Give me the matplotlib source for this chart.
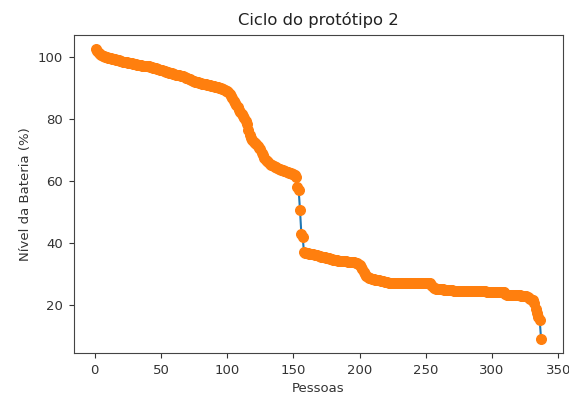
import numpy as np
import matplotlib
matplotlib.use("Agg")
import matplotlib.pyplot as plt

title = "Ciclo do protótipo 2"
xlabel = "Pessoas"
ylabel = "Nível da Bateria (%)"

nivel = [
    102.5, 102.0, 101.5, 101.0, 100.8, 100.5, 100.3, 100.0, 100.0, 99.8,
    99.7, 99.6, 99.5, 99.4, 99.3, 99.2, 99.1, 99.0, 98.9, 98.8,
    98.6, 98.5, 98.4, 98.3, 98.2, 98.1, 98.0, 98.0, 97.9, 97.8,
    97.7, 97.6, 97.5, 97.5, 97.4, 97.3, 97.2, 97.1, 97.0, 97.0,
    97.0, 96.9, 96.8, 96.6, 96.5, 96.4, 96.3, 96.1, 96.0, 95.9,
    95.8, 95.6, 95.5, 95.3, 95.2, 95.0, 94.9, 94.8, 94.7, 94.6,
    94.4, 94.3, 94.2, 94.1, 94.0, 93.9, 93.8, 93.6, 93.4, 93.2,
    93.0, 92.8, 92.6, 92.4, 92.3, 92.1, 92.0, 91.9, 91.7, 91.6,
    91.5, 91.4, 91.3, 91.2, 91.1, 91.0, 90.9, 90.8, 90.7, 90.6,
    90.5, 90.4, 90.3, 90.2, 90.0, 89.8, 89.6, 89.4, 89.2, 89.0,
    88.6, 88.2, 87.5, 86.8, 86.0, 85.2, 84.5, 83.8, 83.0, 82.4,
    81.8, 81.0, 80.2, 79.3, 78.5, 76.5, 75.0, 74.0, 73.2, 72.7,
    72.3, 71.8, 71.3, 70.8, 70.3, 69.2, 68.3, 67.5, 66.9, 66.4,
    66.0, 65.6, 65.3, 65.1, 64.9, 64.6, 64.4, 64.2, 64.0, 63.8,
    63.6, 63.5, 63.3, 63.2, 63.0, 62.9, 62.7, 62.5, 62.3, 62.1,
    61.8, 61.3, 58.0, 57.0, 50.6, 43.0, 42.0, 37.0, 36.8, 36.7,
    36.6, 36.5, 36.5, 36.4, 36.3, 36.2, 36.1, 36.0, 35.9, 35.8,
    35.6, 35.5, 35.4, 35.3, 35.2, 35.1, 35.0, 34.8, 34.7, 34.6,
    34.5, 34.4, 34.4, 34.3, 34.2, 34.2, 34.1, 34.0, 34.0, 34.0,
    33.9, 33.9, 33.8, 33.8, 33.8, 33.7, 33.6, 33.5, 33.3, 32.8,
    32.2, 31.5, 30.7, 29.8, 29.2, 28.9, 28.7, 28.5, 28.4, 28.3,
    28.2, 28.1, 28.0, 28.0, 27.9, 27.8, 27.7, 27.6, 27.5, 27.4,
    27.3, 27.2, 27.1, 27.0, 27.0, 27.0, 26.9, 26.9, 26.9, 26.9,
    26.9, 26.9, 26.9, 26.9, 26.9, 26.9, 26.9, 26.9, 26.9, 26.9,
    26.9, 26.9, 26.9, 26.9, 26.9, 26.9, 26.9, 26.9, 26.9, 26.9,
    26.9, 26.9, 26.9, 26.5, 26.0, 25.5, 25.3, 25.2, 25.2, 25.1,
    25.0, 25.0, 25.0, 24.9, 24.9, 24.9, 24.8, 24.8, 24.8, 24.7,
    24.6, 24.5, 24.5, 24.5, 24.5, 24.4, 24.4, 24.4, 24.4, 24.4,
    24.4, 24.4, 24.4, 24.4, 24.4, 24.3, 24.3, 24.3, 24.3, 24.3,
    24.3, 24.3, 24.3, 24.3, 24.3, 24.2, 24.2, 24.2, 24.2, 24.2,
    24.2, 24.2, 24.2, 24.1, 24.1, 24.1, 24.1, 24.1, 24.1, 23.6,
    23.3, 23.2, 23.1, 23.1, 23.1, 23.1, 23.1, 23.1, 23.1, 23.1,
    23.1, 23.0, 23.0, 22.9, 22.8, 22.7, 22.5, 22.3, 22.0, 21.7,
    21.5, 20.5, 18.5, 17.5, 16.0, 15.0, 9.0,
]
pessoas = np.arange(1, len(nivel) + 1)

plt.rcParams['font.family'] = ['DejaVu Sans']
fig = plt.figure(figsize=(5.69, 3.94), dpi=100)
ax = fig.add_axes([73.8 / 569, (394 - 353.3) / 394, (563.3 - 73.8) / 569, (353.3 - 35) / 394])

ax.plot(pessoas, nivel, color='C0', linewidth=1.5)
ax.scatter(pessoas, nivel, color='C1', s=48, zorder=3)

ax.set_title(title, fontsize=11.8, color='#222222', pad=7)
ax.set_xlabel(xlabel, fontsize=9.5, color='#333333', labelpad=3.5)
ax.set_ylabel(ylabel, fontsize=9.5, color='#333333')
ax.set_xticks([0, 50, 100, 150, 200, 250, 300, 350])
ax.set_yticks([20, 40, 60, 80, 100])
ax.tick_params(labelsize=9.5, colors='#333333', pad=4.5)
for s in ax.spines.values():
    s.set_color('#444444')

fig.savefig('out.png', dpi=100)
